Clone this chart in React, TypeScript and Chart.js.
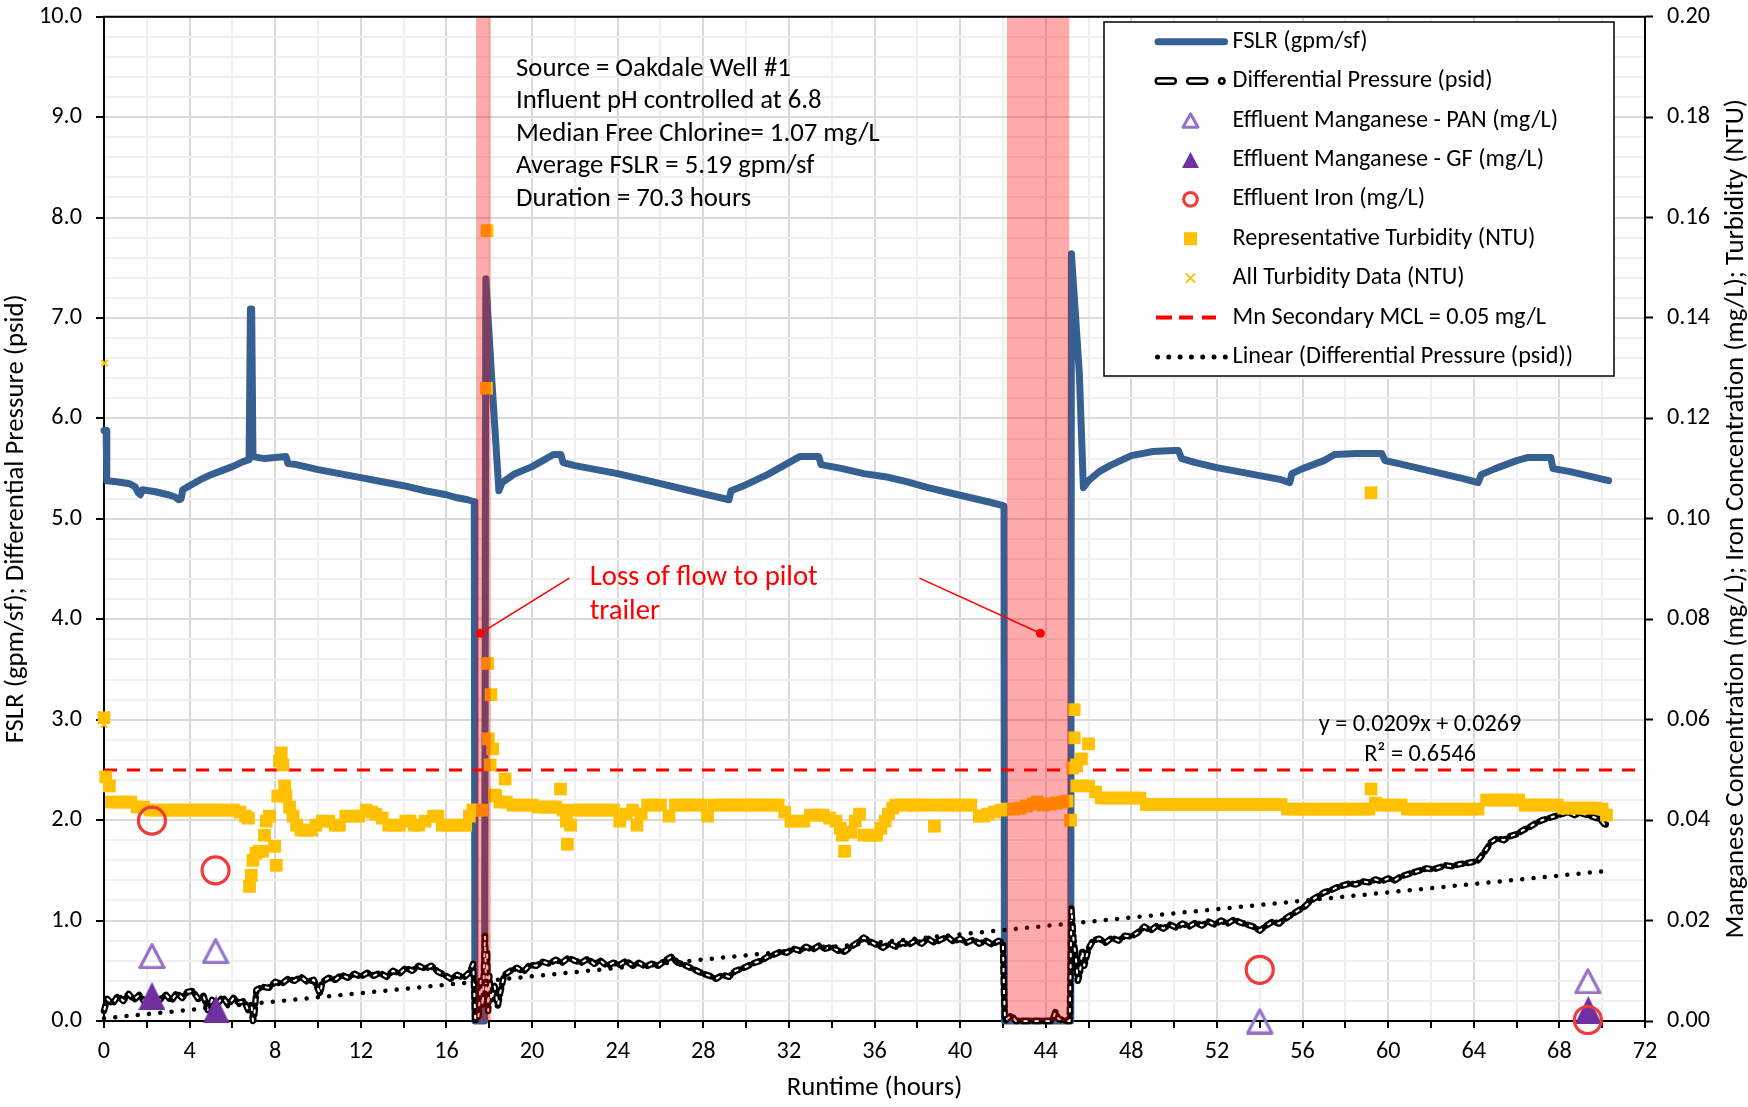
import React, { useEffect, useRef } from 'react';
import { Chart, registerables } from 'chart.js';

Chart.register(...registerables);

// ---------------- data ----------------
const X_MIN = 0;
const X_MAX = 72;
const X_STEP = 2;
const X_LABEL_EVERY = 4;
const Y_MIN = 0;
const Y_MAX = 10;
const Y_STEP = 0.2;
const Y2_MIN = 0;
const Y2_MAX = 0.2;
const Y2_STEP = 0.02;

const X_TITLE = 'Runtime (hours)';
const Y_TITLE = 'FSLR (gpm/sf); Differential Pressure (psid)';
const Y2_TITLE = 'Manganese Concentration (mg/L); Iron Concentration (mg/L); Turbidity (NTU)';

// FSLR (gpm/sf) vs runtime (hours)
const FSLR: [number, number][] = [
  [0, 5.88], [0.1, 5.88], [0.13, 5.38], [0.6, 5.37], [1.2, 5.35], [1.45, 5.32], [1.6, 5.26], [1.7, 5.24], [1.8, 5.29],
  [2.4, 5.27], [3.0, 5.24], [3.3, 5.22], [3.5, 5.19], [3.6, 5.2], [3.68, 5.29], [4.0, 5.33], [4.5, 5.39], [5.0, 5.44],
  [5.5, 5.48], [6.0, 5.52], [6.5, 5.57], [6.78, 5.59], [6.84, 7.09], [6.9, 7.09], [6.96, 5.62], [7.5, 5.6], [8.0, 5.61],
  [8.5, 5.62], [8.6, 5.55], [9.0, 5.54], [10.0, 5.49], [11.0, 5.45], [12.0, 5.41], [13.0, 5.37], [14.0, 5.33], [15.0, 5.28],
  [16.0, 5.24], [16.5, 5.21], [17.0, 5.19], [17.3, 5.17], [17.33, 0], [17.78, 0], [17.84, 7.39], [18.1, 6.45], [18.45, 5.28],
  [18.6, 5.36], [19.2, 5.45], [20.0, 5.52], [20.5, 5.58], [21.0, 5.64], [21.35, 5.64], [21.45, 5.56], [22.0, 5.53], [23.0, 5.49],
  [24.0, 5.45], [25.0, 5.4], [26.0, 5.35], [27.0, 5.3], [28.0, 5.25], [29.0, 5.2], [29.2, 5.19], [29.3, 5.28], [30.0, 5.34],
  [31.0, 5.44], [32.0, 5.56], [32.5, 5.62], [33.4, 5.62], [33.5, 5.54], [34.5, 5.5], [35.5, 5.45], [36.5, 5.42], [37.5, 5.37],
  [38.5, 5.31], [39.5, 5.26], [40.5, 5.21], [41.5, 5.16], [42.05, 5.13], [42.07, 0], [45.17, 0], [45.2, 7.64], [45.57, 6.45],
  [45.76, 5.31], [46.0, 5.38], [46.5, 5.47], [47.0, 5.53], [48.0, 5.63], [49.0, 5.67], [50.0, 5.68], [50.2, 5.68], [50.35, 5.6],
  [51.0, 5.56], [52.0, 5.51], [53.0, 5.47], [54.0, 5.43], [55.0, 5.39], [55.4, 5.36], [55.5, 5.45], [56.0, 5.5], [57.0, 5.58],
  [57.5, 5.64], [58.5, 5.65], [59.7, 5.65], [59.85, 5.58], [60.5, 5.55], [61.5, 5.5], [62.5, 5.45], [63.5, 5.4], [64.2, 5.36],
  [64.35, 5.44], [65.0, 5.5], [66.0, 5.58], [66.5, 5.61], [67.6, 5.61], [67.7, 5.5], [68.5, 5.47], [69.5, 5.42], [70.3, 5.38],
];

// Differential pressure (psid)
const DIFF_PRESSURE: [number, number][] = [
  [0.0, 0.1], [0.15, 0.22], [0.4, 0.17], [0.65, 0.25], [0.9, 0.2], [1.15, 0.27], [1.4, 0.21], [1.65, 0.26], [1.9, 0.19],
  [2.15, 0.24], [2.4, 0.17], [2.65, 0.22], [2.9, 0.26], [3.15, 0.2], [3.4, 0.28], [3.65, 0.23], [3.9, 0.29], [4.15, 0.3],
  [4.4, 0.22], [4.65, 0.25], [4.85, 0.11], [5.05, 0.21], [5.3, 0.17], [5.55, 0.24], [5.8, 0.16], [6.05, 0.23], [6.3, 0.18],
  [6.55, 0.2], [6.75, 0.1], [6.9, 0.14], [6.96, 0.0], [7.02, 0.05], [7.12, 0.31], [7.4, 0.34], [7.7, 0.33], [8.0, 0.39],
  [8.3, 0.37], [8.6, 0.42], [8.9, 0.4], [9.2, 0.44], [9.5, 0.39], [9.8, 0.41], [10.1, 0.27], [10.2, 0.39], [10.5, 0.43],
  [10.8, 0.41], [11.1, 0.46], [11.4, 0.43], [11.7, 0.47], [12.0, 0.44], [12.3, 0.48], [12.6, 0.45], [12.9, 0.48], [13.2, 0.44],
  [13.5, 0.5], [13.8, 0.47], [14.1, 0.53], [14.4, 0.5], [14.7, 0.55], [15.0, 0.52], [15.3, 0.55], [15.6, 0.49], [15.9, 0.46],
  [16.2, 0.42], [16.5, 0.46], [16.8, 0.43], [17.1, 0.49], [17.25, 0.57], [17.3, 0.3], [17.35, 0.0], [17.5, 0.05], [17.6, 0.4],
  [17.7, 0.15], [17.8, 0.85], [17.85, 0.3], [17.9, 0.7], [17.95, 0.1], [18.0, 0.45], [18.1, 0.2], [18.25, 0.35], [18.4, 0.15],
  [18.5, 0.27], [18.7, 0.46], [19.0, 0.5], [19.3, 0.53], [19.6, 0.49], [19.9, 0.56], [20.2, 0.55], [20.5, 0.59], [20.8, 0.57],
  [21.1, 0.61], [21.4, 0.58], [21.7, 0.63], [22.0, 0.6], [22.3, 0.58], [22.6, 0.62], [22.9, 0.57], [23.2, 0.6], [23.5, 0.55],
  [23.8, 0.58], [24.1, 0.56], [24.4, 0.6], [24.7, 0.55], [25.0, 0.58], [25.3, 0.54], [25.6, 0.57], [25.9, 0.55], [26.2, 0.6],
  [26.5, 0.64], [26.8, 0.58], [27.1, 0.56], [27.4, 0.53], [27.7, 0.5], [28.0, 0.47], [28.3, 0.45], [28.6, 0.42], [28.9, 0.46],
  [29.2, 0.44], [29.5, 0.5], [29.8, 0.52], [30.1, 0.55], [30.4, 0.58], [30.7, 0.6], [31.0, 0.64], [31.3, 0.66], [31.6, 0.69],
  [31.9, 0.68], [32.2, 0.72], [32.5, 0.7], [32.8, 0.74], [33.1, 0.71], [33.4, 0.75], [33.7, 0.72], [34.0, 0.74], [34.3, 0.7],
  [34.6, 0.69], [34.9, 0.74], [35.2, 0.78], [35.5, 0.83], [35.8, 0.79], [36.1, 0.76], [36.4, 0.73], [36.7, 0.77], [37.0, 0.74],
  [37.3, 0.78], [37.6, 0.76], [37.9, 0.8], [38.2, 0.77], [38.5, 0.82], [38.8, 0.78], [39.1, 0.81], [39.4, 0.84], [39.7, 0.79],
  [40.0, 0.82], [40.3, 0.78], [40.6, 0.81], [40.9, 0.77], [41.2, 0.8], [41.5, 0.76], [41.8, 0.8], [42.0, 0.78], [42.05, 0.3],
  [42.1, 0.0], [42.4, 0.06], [42.6, 0.0], [43.5, 0.0], [44.3, 0.0], [44.45, 0.09], [44.6, 0.02], [45.0, 0.0], [45.12, 0.0],
  [45.16, 0.5], [45.2, 1.12], [45.3, 0.8], [45.4, 0.65], [45.5, 0.4], [45.6, 0.48], [45.7, 0.7], [45.8, 0.55], [46.0, 0.72],
  [46.2, 0.8], [46.5, 0.82], [46.8, 0.78], [47.1, 0.83], [47.4, 0.8], [47.7, 0.85], [48.0, 0.84], [48.3, 0.88], [48.6, 0.94],
  [48.9, 0.9], [49.2, 0.95], [49.5, 0.92], [49.8, 0.96], [50.1, 0.93], [50.4, 0.97], [50.7, 0.94], [51.0, 0.98], [51.3, 0.95],
  [51.6, 0.99], [51.9, 0.96], [52.2, 1.0], [52.5, 0.97], [52.8, 1.01], [53.1, 0.98], [53.4, 0.96], [53.7, 0.94], [54.0, 0.9],
  [54.3, 0.95], [54.6, 0.99], [54.9, 0.97], [55.2, 1.02], [55.5, 1.06], [55.8, 1.1], [56.1, 1.14], [56.4, 1.2], [56.7, 1.24],
  [57.0, 1.28], [57.3, 1.3], [57.6, 1.33], [57.9, 1.35], [58.2, 1.37], [58.5, 1.36], [58.8, 1.39], [59.1, 1.38], [59.4, 1.41],
  [59.7, 1.39], [60.0, 1.42], [60.3, 1.4], [60.6, 1.44], [60.9, 1.46], [61.2, 1.48], [61.5, 1.5], [61.8, 1.52], [62.1, 1.51],
  [62.4, 1.53], [62.7, 1.55], [63.0, 1.54], [63.3, 1.56], [63.6, 1.57], [63.9, 1.58], [64.2, 1.6], [64.5, 1.68], [64.8, 1.78],
  [65.1, 1.82], [65.4, 1.8], [65.7, 1.84], [66.0, 1.86], [66.3, 1.9], [66.6, 1.93], [66.9, 1.97], [67.2, 2.0], [67.5, 2.02],
  [67.8, 2.04], [68.1, 2.06], [68.4, 2.08], [68.7, 2.05], [69.0, 2.07], [69.3, 2.05], [69.6, 2.03], [69.9, 2.01], [70.1, 1.96],
  [70.3, 1.95],
];

// Representative turbidity (NTU)
const REP_TURBIDITY: [number, number][] = [
  [0.0, 0.0604], [0.08, 0.0486], [0.25, 0.0468], [0.35, 0.0436], [0.65, 0.0436], [0.95, 0.0436], [1.25, 0.0436], [1.55, 0.0426],
  [1.85, 0.0426], [2.15, 0.042], [2.45, 0.042], [2.75, 0.042], [3.05, 0.042], [3.35, 0.042], [3.65, 0.042], [3.95, 0.042],
  [4.25, 0.042], [4.55, 0.042], [4.85, 0.042], [5.15, 0.042], [5.45, 0.042], [5.75, 0.042], [6.05, 0.042], [6.35, 0.0416],
  [6.6, 0.0408], [6.75, 0.0404], [6.8, 0.0268], [6.88, 0.029], [6.96, 0.032], [7.1, 0.0334], [7.25, 0.0338], [7.4, 0.0338],
  [7.5, 0.037], [7.58, 0.0398], [7.73, 0.0408], [7.97, 0.0348], [8.05, 0.031], [8.12, 0.0448], [8.2, 0.0518], [8.28, 0.0534],
  [8.36, 0.051], [8.44, 0.0468], [8.5, 0.0448], [8.67, 0.0426], [8.83, 0.0408], [9.0, 0.039], [9.2, 0.038], [9.45, 0.038],
  [9.7, 0.038], [9.9, 0.039], [10.2, 0.0398], [10.5, 0.0398], [10.8, 0.039], [11.0, 0.039], [11.3, 0.0408], [11.6, 0.0408],
  [11.9, 0.0408], [12.25, 0.042], [12.5, 0.0416], [12.7, 0.0412], [13.0, 0.0404], [13.3, 0.039], [13.6, 0.039], [13.8, 0.039],
  [14.1, 0.0398], [14.3, 0.0398], [14.5, 0.039], [14.7, 0.039], [15.0, 0.0398], [15.4, 0.0408], [15.6, 0.0408], [15.8, 0.039],
  [16.1, 0.039], [16.4, 0.039], [16.7, 0.039], [16.9, 0.039], [17.07, 0.0408], [17.23, 0.042], [17.45, 0.042], [17.65, 0.042],
  [17.87, 0.126], [17.9, 0.1574], [17.93, 0.0712], [17.96, 0.0562], [18.04, 0.051], [18.08, 0.065], [18.16, 0.0542],
  [18.24, 0.045], [18.3, 0.0448], [18.5, 0.0436], [18.74, 0.0482], [18.8, 0.0436], [19.1, 0.043], [19.4, 0.043], [19.7, 0.043],
  [20.0, 0.043], [20.3, 0.0426], [20.6, 0.0426], [20.9, 0.0426], [21.1, 0.0426], [21.33, 0.0462], [21.45, 0.042], [21.6, 0.0398],
  [21.65, 0.0352], [21.8, 0.039], [22.0, 0.042], [22.3, 0.042], [22.6, 0.042], [22.9, 0.042], [23.2, 0.042], [23.5, 0.042],
  [23.8, 0.042], [24.1, 0.0398], [24.4, 0.0412], [24.7, 0.042], [24.9, 0.039], [25.1, 0.0412], [25.4, 0.043], [25.7, 0.043],
  [26.0, 0.043], [26.4, 0.0408], [26.7, 0.043], [27.0, 0.043], [27.3, 0.043], [27.6, 0.043], [27.9, 0.043], [28.2, 0.0408],
  [28.5, 0.043], [28.8, 0.043], [29.1, 0.043], [29.4, 0.043], [29.7, 0.043], [30.0, 0.043], [30.3, 0.043], [30.6, 0.043],
  [30.9, 0.043], [31.2, 0.043], [31.5, 0.043], [31.8, 0.0416], [32.1, 0.0398], [32.4, 0.0398], [32.7, 0.0398], [33.0, 0.041],
  [33.3, 0.041], [33.6, 0.041], [33.9, 0.0404], [34.2, 0.0398], [34.4, 0.0384], [34.5, 0.037], [34.6, 0.0338], [34.75, 0.0376],
  [34.9, 0.0376], [35.1, 0.0398], [35.3, 0.0412], [35.5, 0.037], [35.8, 0.037], [36.1, 0.037], [36.3, 0.0384], [36.5, 0.0398],
  [36.65, 0.0412], [36.85, 0.0424], [37.0, 0.043], [37.3, 0.043], [37.6, 0.043], [37.9, 0.043], [38.2, 0.043], [38.5, 0.043],
  [38.8, 0.0388], [39.0, 0.043], [39.3, 0.043], [39.6, 0.043], [39.9, 0.043], [40.2, 0.043], [40.5, 0.043], [40.9, 0.0408],
  [41.1, 0.0408], [41.3, 0.0412], [41.6, 0.0416], [41.9, 0.042], [42.2, 0.0422], [42.5, 0.0422], [42.8, 0.0424], [43.1, 0.0428],
  [43.4, 0.0432], [43.6, 0.0436], [43.9, 0.043], [44.2, 0.0432], [44.5, 0.0434], [44.8, 0.0436], [45.0, 0.0438], [45.16, 0.04],
  [45.26, 0.0504], [45.33, 0.062], [45.33, 0.0564], [45.44, 0.051], [45.45, 0.0468], [45.67, 0.0522], [46.0, 0.0552],
  [46.0, 0.0468], [46.33, 0.0456], [46.6, 0.0444], [46.9, 0.0444], [47.2, 0.0444], [47.5, 0.0444], [47.8, 0.0444], [48.1, 0.0444],
  [48.4, 0.0444], [48.7, 0.0431], [49.0, 0.0431], [49.3, 0.0431], [49.6, 0.0431], [49.9, 0.0431], [50.2, 0.0431], [50.5, 0.0431],
  [50.8, 0.0431], [51.1, 0.0431], [51.4, 0.0431], [51.7, 0.0431], [52.0, 0.0431], [52.3, 0.0431], [52.6, 0.0431], [52.9, 0.0431],
  [53.2, 0.0431], [53.5, 0.0431], [53.8, 0.0431], [54.1, 0.0431], [54.4, 0.0431], [54.7, 0.0431], [55.0, 0.0431], [55.3, 0.0422],
  [55.6, 0.0422], [55.9, 0.0422], [56.2, 0.0422], [56.5, 0.0422], [56.8, 0.0422], [57.1, 0.0422], [57.4, 0.0422], [57.7, 0.0422],
  [58.0, 0.0422], [58.3, 0.0422], [58.6, 0.0422], [58.9, 0.0422], [59.1, 0.0422], [59.2, 0.1052], [59.2, 0.0462], [59.4, 0.0434],
  [59.7, 0.043], [60.0, 0.043], [60.3, 0.043], [60.6, 0.043], [60.9, 0.0422], [61.2, 0.0422], [61.5, 0.0422], [61.8, 0.0422],
  [62.1, 0.0422], [62.4, 0.0422], [62.7, 0.0422], [63.0, 0.0422], [63.3, 0.0422], [63.6, 0.0422], [63.9, 0.0422], [64.2, 0.0422],
  [64.6, 0.044], [64.9, 0.044], [65.2, 0.044], [65.5, 0.044], [65.8, 0.044], [66.1, 0.044], [66.4, 0.043], [66.7, 0.043],
  [67.0, 0.043], [67.3, 0.043], [67.6, 0.043], [67.9, 0.043], [68.2, 0.0424], [68.5, 0.0424], [68.8, 0.0424], [69.1, 0.0424],
  [69.4, 0.0424], [69.7, 0.0424], [70.0, 0.0422], [70.2, 0.041],
];

// All turbidity data (NTU) - only the points not hidden by representative squares
const ALL_TURBIDITY: [number, number][] = [[0.03, 0.131], [0.0, 0.059]];

// Effluent manganese & iron (mg/L)
const MN_PAN: [number, number][] = [[2.24, 0.013], [5.21, 0.014], [54.0, 0.0], [69.33, 0.008]];
const MN_GF: [number, number][] = [[2.24, 0.005], [5.24, 0.0023], [69.35, 0.0022]];
const IRON: [number, number][] = [[2.24, 0.0399], [5.21, 0.03], [54.0, 0.0102], [69.33, 0.0002]];

const MN_MCL = 0.05;
const TREND_SLOPE = 0.0209;
const TREND_INTERCEPT = 0.0269;
const TREND_START = 0;
const TREND_END = 70.3;

// runtime windows (hours) with loss of flow
const LOSS_OF_FLOW: [number, number][] = [[17.38, 18.07], [42.19, 45.1]];

const INFO_LINES = [
  'Source = Oakdale Well #1',
  'Influent pH controlled at 6.8',
  'Median Free Chlorine= 1.07 mg/L',
  'Average FSLR = 5.19 gpm/sf',
  'Duration = 70.3 hours',
];
const LOSS_LABEL = ['Loss of flow to pilot', 'trailer'];
const TREND_LABEL = ['y = 0.0209x + 0.0269', 'R\u00b2 = 0.6546'];

// annotation anchors (data coordinates: hours, left-axis units)
const INFO_AT: [number, number] = [19.25, 9.48];
const LOSS_TEXT_AT: [number, number] = [22.69, 4.41];
const LOSS_POINTERS: [number, number, number, number][] = [
  [21.74, 4.41, 17.58, 3.86],
  [38.1, 4.41, 43.75, 3.86],
];
const TREND_LABEL_AT: [number, number] = [61.49, 2.945];

// ---------------- styling / layout ----------------
const W = 1748;
const H = 1107;
const FONT = 'Carlito, Lato, sans-serif';
const CAL_REF_TEXT = 'Effluent Manganese - PAN (mg/L)';
const CAL_REF_EM = 13.56;

const C_FSLR = '#376092';
const C_TURB = '#FFC000';
const C_PAN = '#9673C8';
const C_GF = '#7030A0';
const C_IRON = '#F23A3A';
const C_MCL = '#FF0000';
const GRID_MAJOR = '#D9D9D9';
const GRID_MINOR = '#EFEFEF';

const LEGEND_BOX = { x: 1104, y: 22, w: 510, h: 354 };
const LEGEND_ROW0 = 41.7;
const LEGEND_ROW = 39.4;
const LEGEND_TEXT_X = 1232.6;
const LEGEND_MARK_X = 1190.5;
const LEGEND_KEYS = ['fslr', 'dp', 'pan', 'gf', 'iron', 'turb', 'allturb', 'mcl', 'trend'];
const Y2_TITLE_X = 1736;

function fontScale(): number {
  const c = document.createElement('canvas');
  const g = c.getContext('2d');
  if (!g) return 1;
  g.font = `100px ${FONT}`;
  const w = g.measureText(CAL_REF_TEXT).width;
  return w > 0 ? (CAL_REF_EM * 100) / w : 1;
}

function triangleImage(w: number, h: number, fill: string | null, stroke: string | null, lw: number) {
  const c = document.createElement('canvas');
  c.width = Math.ceil(w);
  c.height = Math.ceil(h);
  const g = c.getContext('2d')!;
  g.beginPath();
  if (stroke) {
    g.moveTo(w / 2, lw * 0.75);
    g.lineTo(w - lw * 0.6, h - lw / 2);
    g.lineTo(lw * 0.6, h - lw / 2);
  } else {
    g.moveTo(w / 2, 0);
    g.lineTo(w, h);
    g.lineTo(0, h);
  }
  g.closePath();
  if (fill) {
    g.fillStyle = fill;
    g.fill();
  }
  if (stroke) {
    g.lineJoin = 'round';
    g.lineWidth = lw;
    g.strokeStyle = stroke;
    g.stroke();
  }
  return c;
}

function drawTri(ctx: CanvasRenderingContext2D, cx: number, cy: number, w: number, h: number, fill: string | null, stroke: string | null, lw: number) {
  ctx.beginPath();
  ctx.moveTo(cx, cy - h / 2);
  ctx.lineTo(cx + w / 2, cy + h / 2);
  ctx.lineTo(cx - w / 2, cy + h / 2);
  ctx.closePath();
  if (fill) {
    ctx.fillStyle = fill;
    ctx.fill();
  }
  if (stroke) {
    ctx.lineJoin = 'round';
    ctx.lineWidth = lw;
    ctx.strokeStyle = stroke;
    ctx.stroke();
  }
}

const xy = (arr: [number, number][]) => arr.map(([x, y]) => ({ x, y }));
const isInt = (v: number) => Math.abs(v - Math.round(v)) < 1e-6;

function drawLegendSample(ctx: CanvasRenderingContext2D, key: string, cy: number) {
  const mx = LEGEND_MARK_X;
  ctx.save();
  switch (key) {
    case 'fslr':
      ctx.strokeStyle = C_FSLR;
      ctx.lineWidth = 7;
      ctx.lineCap = 'round';
      ctx.beginPath();
      ctx.moveTo(1158, cy);
      ctx.lineTo(1224.5, cy);
      ctx.stroke();
      break;
    case 'dp': {
      const segs = [[1158.5, 1173], [1190, 1204.5]];
      ctx.lineCap = 'round';
      for (const [a, b] of segs) {
        ctx.strokeStyle = '#000';
        ctx.lineWidth = 8;
        ctx.beginPath();
        ctx.moveTo(a, cy);
        ctx.lineTo(b, cy);
        ctx.stroke();
        ctx.strokeStyle = '#fff';
        ctx.lineWidth = 3;
        ctx.beginPath();
        ctx.moveTo(a, cy);
        ctx.lineTo(b, cy);
        ctx.stroke();
      }
      ctx.fillStyle = '#000';
      ctx.beginPath();
      ctx.arc(1221.8, cy, 4, 0, Math.PI * 2);
      ctx.fill();
      ctx.fillStyle = '#fff';
      ctx.beginPath();
      ctx.arc(1221.8, cy, 1.5, 0, Math.PI * 2);
      ctx.fill();
      break;
    }
    case 'pan':
      drawTri(ctx, mx, cy, 15, 13.5, null, C_PAN, 3);
      break;
    case 'gf':
      drawTri(ctx, mx, cy, 17, 16, C_GF, null, 0);
      break;
    case 'iron':
      ctx.strokeStyle = C_IRON;
      ctx.lineWidth = 3.2;
      ctx.beginPath();
      ctx.arc(mx, cy, 6.8, 0, Math.PI * 2);
      ctx.stroke();
      break;
    case 'turb':
      ctx.fillStyle = C_TURB;
      ctx.fillRect(mx - 6.5, cy - 6.5, 13, 13);
      break;
    case 'allturb':
      ctx.strokeStyle = C_TURB;
      ctx.lineWidth = 2;
      ctx.beginPath();
      ctx.moveTo(mx - 4.5, cy - 4.5);
      ctx.lineTo(mx + 4.5, cy + 4.5);
      ctx.moveTo(mx + 4.5, cy - 4.5);
      ctx.lineTo(mx - 4.5, cy + 4.5);
      ctx.stroke();
      break;
    case 'mcl':
      ctx.strokeStyle = C_MCL;
      ctx.lineWidth = 4;
      ctx.beginPath();
      for (const [a, b] of [[1156, 1172], [1179, 1193], [1202, 1216]]) {
        ctx.moveTo(a, cy);
        ctx.lineTo(b, cy);
      }
      ctx.stroke();
      break;
    case 'trend':
      ctx.fillStyle = '#000';
      for (let i = 0; i < 7; i++) {
        ctx.beginPath();
        ctx.arc(1157.5 + i * 11.3, cy, 2.5, 0, Math.PI * 2);
        ctx.fill();
      }
      break;
  }
  ctx.restore();
}

const decorPlugin = {
  id: 'decor',
  afterDatasetsDraw(chart: any) {
    const { ctx, chartArea: a, scales } = chart;
    const x = scales.x;
    ctx.save();
    ctx.fillStyle = 'rgba(255,0,0,0.33)';
    for (const [s, e] of LOSS_OF_FLOW) {
      const x0 = x.getPixelForValue(s);
      const x1 = x.getPixelForValue(e);
      ctx.fillRect(x0, a.top, x1 - x0, a.bottom - a.top);
    }
    ctx.restore();
  },
  afterDraw(chart: any, _args: any, opts: any) {
    const { ctx, chartArea: a, scales } = chart;
    const x = scales.x;
    const y = scales.y;
    const k = opts.k || 1;
    ctx.save();
    // top frame line
    ctx.strokeStyle = '#000';
    ctx.lineWidth = 2;
    ctx.beginPath();
    ctx.moveTo(a.left - 1, a.top);
    ctx.lineTo(a.right + 1, a.top);
    ctx.stroke();

    // right axis title (reads bottom-to-top)
    ctx.save();
    ctx.fillStyle = '#000';
    ctx.font = `${26.5 * k}px ${FONT}`;
    ctx.textAlign = 'center';
    ctx.textBaseline = 'middle';
    ctx.translate(Y2_TITLE_X, (a.top + a.bottom) / 2);
    ctx.rotate(-Math.PI / 2);
    ctx.fillText(Y2_TITLE, 0, 0);
    ctx.restore();

    // info text block
    ctx.fillStyle = '#000';
    ctx.textBaseline = 'middle';
    ctx.textAlign = 'left';
    ctx.font = `${26.5 * k}px ${FONT}`;
    const ix = x.getPixelForValue(INFO_AT[0]);
    const iy = y.getPixelForValue(INFO_AT[1]);
    INFO_LINES.forEach((t, i) => ctx.fillText(t, ix, iy + i * 32.5));

    // loss of flow annotation
    ctx.strokeStyle = '#FF0000';
    ctx.fillStyle = '#FF0000';
    ctx.lineWidth = 1.6;
    for (const [x0, y0, x1, y1] of LOSS_POINTERS) {
      const px0 = x.getPixelForValue(x0);
      const py0 = y.getPixelForValue(y0);
      const px1 = x.getPixelForValue(x1);
      const py1 = y.getPixelForValue(y1);
      ctx.beginPath();
      ctx.moveTo(px0, py0);
      ctx.lineTo(px1, py1);
      ctx.stroke();
      ctx.beginPath();
      ctx.arc(px1, py1, 4.5, 0, Math.PI * 2);
      ctx.fill();
    }
    ctx.font = `${28.5 * k}px ${FONT}`;
    const lx = x.getPixelForValue(LOSS_TEXT_AT[0]);
    const ly = y.getPixelForValue(LOSS_TEXT_AT[1]);
    LOSS_LABEL.forEach((t, i) => ctx.fillText(t, lx, ly + i * 33.5));

    // trendline equation
    ctx.fillStyle = '#000';
    ctx.textAlign = 'center';
    ctx.font = `${24 * k}px ${FONT}`;
    const tx = x.getPixelForValue(TREND_LABEL_AT[0]);
    const ty = y.getPixelForValue(TREND_LABEL_AT[1]);
    TREND_LABEL.forEach((t, i) => ctx.fillText(t, tx, ty + i * 29.5));

    // legend
    const b = LEGEND_BOX;
    ctx.fillStyle = '#fff';
    ctx.fillRect(b.x, b.y, b.w, b.h);
    ctx.strokeStyle = '#000';
    ctx.lineWidth = 1.5;
    ctx.strokeRect(b.x, b.y, b.w, b.h);
    ctx.textAlign = 'left';
    ctx.font = `${24 * k}px ${FONT}`;
    LEGEND_KEYS.forEach((key, i) => {
      const ds = chart.data.datasets.find((d: any) => d.key === key);
      const cy = LEGEND_ROW0 + i * LEGEND_ROW;
      drawLegendSample(ctx, key, cy);
      ctx.fillStyle = '#000';
      ctx.fillText(ds ? ds.label : '', LEGEND_TEXT_X, cy);
    });
    ctx.restore();
  },
};

export default function App() {
  const ref = useRef<HTMLCanvasElement>(null);

  useEffect(() => {
    const canvas = ref.current;
    if (!canvas) return;
    const k = fontScale();
    const font = (px: number) => ({ family: FONT, size: px * k, lineHeight: 1 });

    const panImg = triangleImage(28, 27, null, C_PAN, 3.2);
    const gfImg = triangleImage(27, 28, C_GF, null, 0);

    const datasets: any[] = [
      {
        key: 'fslr', label: 'FSLR (gpm/sf)', data: xy(FSLR), yAxisID: 'y', showLine: true,
        borderColor: C_FSLR, borderWidth: 7, pointRadius: 0, borderJoinStyle: 'round', borderCapStyle: 'round',
        clip: false, order: 10,
      },
      {
        key: 'dp', label: 'Differential Pressure (psid)', data: xy(DIFF_PRESSURE), yAxisID: 'y', showLine: true,
        borderColor: '#000', borderWidth: 6.5, borderDash: [6, 5], borderCapStyle: 'round', borderJoinStyle: 'round',
        pointRadius: 0, clip: false, order: 9,
      },
      {
        key: 'dp-inner', label: '', data: xy(DIFF_PRESSURE), yAxisID: 'y', showLine: true,
        borderColor: '#fff', borderWidth: 2, borderDash: [2.5, 8.5], borderDashOffset: -1.75,
        borderCapStyle: 'round', borderJoinStyle: 'round',
        pointRadius: 0, clip: false, order: 8.9,
      },
      {
        key: 'trend', label: 'Linear (Differential Pressure (psid))',
        data: [
          { x: TREND_START, y: TREND_INTERCEPT + TREND_SLOPE * TREND_START },
          { x: TREND_END, y: TREND_INTERCEPT + TREND_SLOPE * TREND_END },
        ],
        yAxisID: 'y', showLine: true, borderColor: '#000', borderWidth: 4.5, borderDash: [0.01, 11.3],
        borderCapStyle: 'round', pointRadius: 0, clip: false, order: 8,
      },
      {
        key: 'mcl', label: 'Mn Secondary MCL = 0.05 mg/L',
        data: [{ x: X_MIN, y: MN_MCL }, { x: X_MAX, y: MN_MCL }],
        yAxisID: 'y2', showLine: true, borderColor: C_MCL, borderWidth: 3, borderDash: [13, 10], pointRadius: 0, order: 7,
      },
      {
        key: 'turb', label: 'Representative Turbidity (NTU)', data: xy(REP_TURBIDITY), yAxisID: 'y2',
        pointStyle: 'rect', pointRadius: 9, pointBackgroundColor: C_TURB, pointBorderWidth: 0, pointBorderColor: C_TURB,
        clip: false, order: 5,
      },
      {
        key: 'allturb', label: 'All Turbidity Data (NTU)', data: xy(ALL_TURBIDITY), yAxisID: 'y2',
        pointStyle: 'crossRot', pointRadius: 4.5, pointBorderColor: C_TURB, pointBorderWidth: 2, clip: false, order: 4,
      },
      {
        key: 'gf', label: 'Effluent Manganese - GF (mg/L)', data: xy(MN_GF), yAxisID: 'y2',
        pointStyle: gfImg, pointRadius: 14, clip: false, order: 3,
      },
      {
        key: 'pan', label: 'Effluent Manganese - PAN (mg/L)', data: xy(MN_PAN), yAxisID: 'y2',
        pointStyle: panImg, pointRadius: 14, clip: false, order: 2,
      },
      {
        key: 'iron', label: 'Effluent Iron (mg/L)', data: xy(IRON), yAxisID: 'y2',
        pointStyle: 'circle', pointRadius: 13.5, pointBackgroundColor: 'rgba(0,0,0,0)', pointBorderColor: C_IRON,
        pointBorderWidth: 3.2, clip: false, order: 1,
      },
    ];

    const chart = new Chart(canvas, {
      type: 'scatter',
      data: { datasets },
      plugins: [decorPlugin],
      options: {
        responsive: false,
        animation: false,
        devicePixelRatio: 1,
        events: [],
        layout: { padding: { top: 14, left: 0, right: 0, bottom: 0 } },
        plugins: {
          legend: { display: false },
          tooltip: { enabled: false },
          decor: { k },
        },
        scales: {
          x: {
            type: 'linear',
            min: X_MIN,
            max: X_MAX,
            afterFit: (s: any) => { s.height = 86; s.paddingLeft = 0; s.paddingRight = 0; },
            ticks: {
              stepSize: X_STEP,
              autoSkip: false,
              maxRotation: 0,
              minRotation: 0,
              padding: 12,
              color: '#000',
              font: font(24),
              callback: (v: any) => (Math.round(v) % X_LABEL_EVERY === 0 && isInt(v) ? String(Math.round(v)) : ''),
            },
            grid: {
              color: (c: any) => (c.tick && Math.round(c.tick.value) % X_LABEL_EVERY === 0 ? GRID_MAJOR : GRID_MINOR),
              lineWidth: 2,
              tickLength: 7,
              tickColor: '#000',
              tickWidth: 2,
            },
            border: { display: true, color: '#000', width: 2 },
            title: {
              display: true, text: X_TITLE, color: '#000', font: font(26.5),
              padding: { top: 0, bottom: 5.4 },
            },
          },
          y: {
            type: 'linear',
            position: 'left',
            min: Y_MIN,
            max: Y_MAX,
            afterFit: (s: any) => { s.width = 104; s.paddingTop = 0; s.paddingBottom = 0; },
            ticks: {
              stepSize: Y_STEP,
              autoSkip: false,
              padding: 14,
              color: '#000',
              font: font(24),
              callback: (v: any) => (isInt(v) ? Number(v).toFixed(1) : ''),
            },
            grid: {
              color: (c: any) => (c.tick && isInt(c.tick.value) ? GRID_MAJOR : GRID_MINOR),
              lineWidth: 2,
              tickLength: 8,
              tickColor: (c: any) => (c.tick && isInt(c.tick.value) ? '#000' : 'rgba(0,0,0,0)'),
              tickWidth: 2,
            },
            border: { display: true, color: '#000', width: 2 },
            title: {
              display: true, text: Y_TITLE, color: '#000', font: font(26.5),
              padding: { top: 3.4, bottom: 0 },
            },
          },
          y2: {
            type: 'linear',
            position: 'right',
            min: Y2_MIN,
            max: Y2_MAX,
            afterFit: (s: any) => { s.width = 103; s.paddingTop = 0; s.paddingBottom = 0; },
            ticks: {
              stepSize: Y2_STEP,
              autoSkip: false,
              padding: 14,
              color: '#000',
              font: font(24),
              callback: (v: any) => Number(v).toFixed(2),
            },
            grid: {
              drawOnChartArea: false,
              tickLength: 8,
              tickColor: '#000',
              tickWidth: 2,
            },
            border: { display: true, color: '#000', width: 2 },
            title: { display: false, text: Y2_TITLE },
          },
        },
      } as any,
    });

    return () => chart.destroy();
  }, []);

  return (
    <div style={{ position: 'fixed', left: 0, top: 0, width: W, height: H, background: '#fff' }}>
      <canvas ref={ref} width={W} height={H} style={{ display: 'block', width: W, height: H }} />
    </div>
  );
}
